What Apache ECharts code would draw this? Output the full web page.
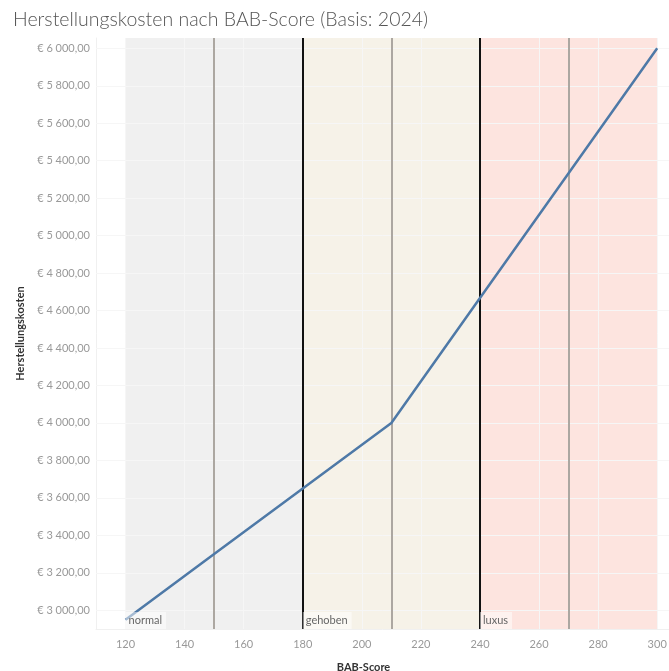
<!DOCTYPE html>
<html>
<head>
<meta charset="utf-8">
<script src="https://cdn.jsdelivr.net/npm/echarts@6/dist/echarts.min.js"></script>
<style>
    html, body { margin: 0; padding: 0; background: #fff; }
    #chart { width: 669px; height: 671px; }
</style>
</head>
<body>
<div id="chart"></div>
<script>
// BAB-Score -> Herstellungskosten
const scores = [120, 150, 180, 210, 240, 270, 300];
const costs = [2950, 3300, 3650, 4000, 4667, 5333, 6000];

// Bereiche (Kategorien)
const bandNames = ['normal', 'gehoben', 'luxus'];
const bandFrom = [120, 180, 240];
const bandTo = [180, 240, 300];
const bandColors = ['#f0f0f0', '#f6f2e8', '#fde4df'];

// Referenzlinien
const borderLines = [180, 240];
const midLines = [150, 210, 270];

// Achsenbeschriftung
const xTicks = [120, 140, 160, 180, 200, 220, 240, 260, 280, 300];
const yTicks = [3000, 3200, 3400, 3600, 3800, 4000, 4200, 4400, 4600, 4800, 5000, 5200, 5400, 5600, 5800, 6000];

const FONT = 'Lato, "Open Sans", sans-serif';

function euro(v) {
    let s = Math.round(v).toString().replace(/\B(?=(\d{3})+(?!\d))/g, ' ');
    return '€ ' + s + ',00';
}

let chart = echarts.init(document.getElementById('chart'));

let bandAreas = bandNames.map((name, i) => [
    {
        name: name,
        xAxis: bandFrom[i],
        yAxis: 'min',
        itemStyle: { color: bandColors[i] }
    },
    { xAxis: bandTo[i], yAxis: 'max' }
]);

let labelAreas = bandNames.map((name, i) => [
    { name: name, xAxis: bandFrom[i], yAxis: 'min' },
    { xAxis: bandTo[i], yAxis: 'max' }
]);

let gridLines = xTicks.map(v => ({ xAxis: v }))
    .concat(yTicks.map(v => ({ yAxis: v })));

let refLines = borderLines.map(v => ({
    xAxis: v,
    lineStyle: { color: '#111', width: 2, type: 'solid' }
})).concat(midLines.map(v => ({
    xAxis: v,
    lineStyle: { color: '#aca7a1', width: 2, type: 'solid' }
})));

let opt = {
    animation: false,
    textStyle: { fontFamily: FONT },
    title: {
        text: 'Herstellungskosten nach BAB-Score (Basis: 2024)',
        left: 8,
        top: 5,
        textStyle: {
            fontFamily: FONT,
            fontSize: 19.5,
            fontWeight: 300,
            color: '#555'
        }
    },
    grid: {
        left: 96,
        right: 0,
        top: 38,
        bottom: 42,
        outerBoundsMode: 'none'
    },
    xAxis: {
        type: 'value',
        min: 110,
        max: 304,
        name: 'BAB-Score',
        nameLocation: 'middle',
        nameGap: 33,
        nameTextStyle: {
            fontSize: 11,
            fontWeight: 'bold',
            color: '#333',
            padding: [0, 38, 0, 0]
        },
        axisLine: { lineStyle: { color: '#f0f0f0' } },
        axisTick: { show: false },
        splitLine: { show: false },
        axisLabel: {
            customValues: xTicks,
            color: '#999',
            fontSize: 11,
            margin: 10
        }
    },
    yAxis: {
        type: 'value',
        min: 2900,
        max: 6055,
        name: 'Herstellungskosten',
        nameLocation: 'middle',
        nameGap: 69,
        nameTextStyle: {
            fontSize: 11,
            fontWeight: 'bold',
            color: '#333'
        },
        axisLine: { show: true, lineStyle: { color: '#f0f0f0' } },
        axisTick: { show: false },
        splitLine: { show: false },
        axisLabel: {
            customValues: yTicks,
            color: '#999',
            fontSize: 11,
            margin: 6,
            formatter: euro
        }
    },
    series: [
        {
            name: 'bands',
            type: 'line',
            data: [],
            z: 1,
            silent: true,
            markArea: {
                silent: true,
                z: 1,
                label: { show: false },
                data: bandAreas
            }
        },
        {
            name: 'grid',
            type: 'line',
            data: [],
            z: 2,
            silent: true,
            markLine: {
                silent: true,
                z: 2,
                symbol: 'none',
                label: { show: false },
                lineStyle: { color: '#f6f6f6', width: 1, type: 'solid' },
                data: gridLines
            }
        },
        {
            name: 'Herstellungskosten',
            type: 'line',
            data: scores.map((s, i) => [s, costs[i]]),
            z: 4,
            showSymbol: false,
            lineStyle: { color: '#4e79a7', width: 2.5 },
            itemStyle: { color: '#4e79a7' },
            markLine: {
                silent: true,
                z: 3,
                symbol: 'none',
                label: { show: false },
                data: refLines
            }
        },
        {
            name: 'labels',
            type: 'line',
            data: [],
            z: 5,
            silent: true,
            markArea: {
                silent: true,
                z: 5,
                itemStyle: { color: 'rgba(0,0,0,0)' },
                label: {
                    show: true,
                    position: 'insideBottomLeft',
                    distance: 0,
                    color: '#666',
                    fontSize: 11,
                    backgroundColor: 'rgba(255,255,255,0.5)',
                    padding: [3, 4, 3, 3]
                },
                data: labelAreas
            }
        }
    ]
};

chart.setOption(opt);
</script>
</body>
</html>
